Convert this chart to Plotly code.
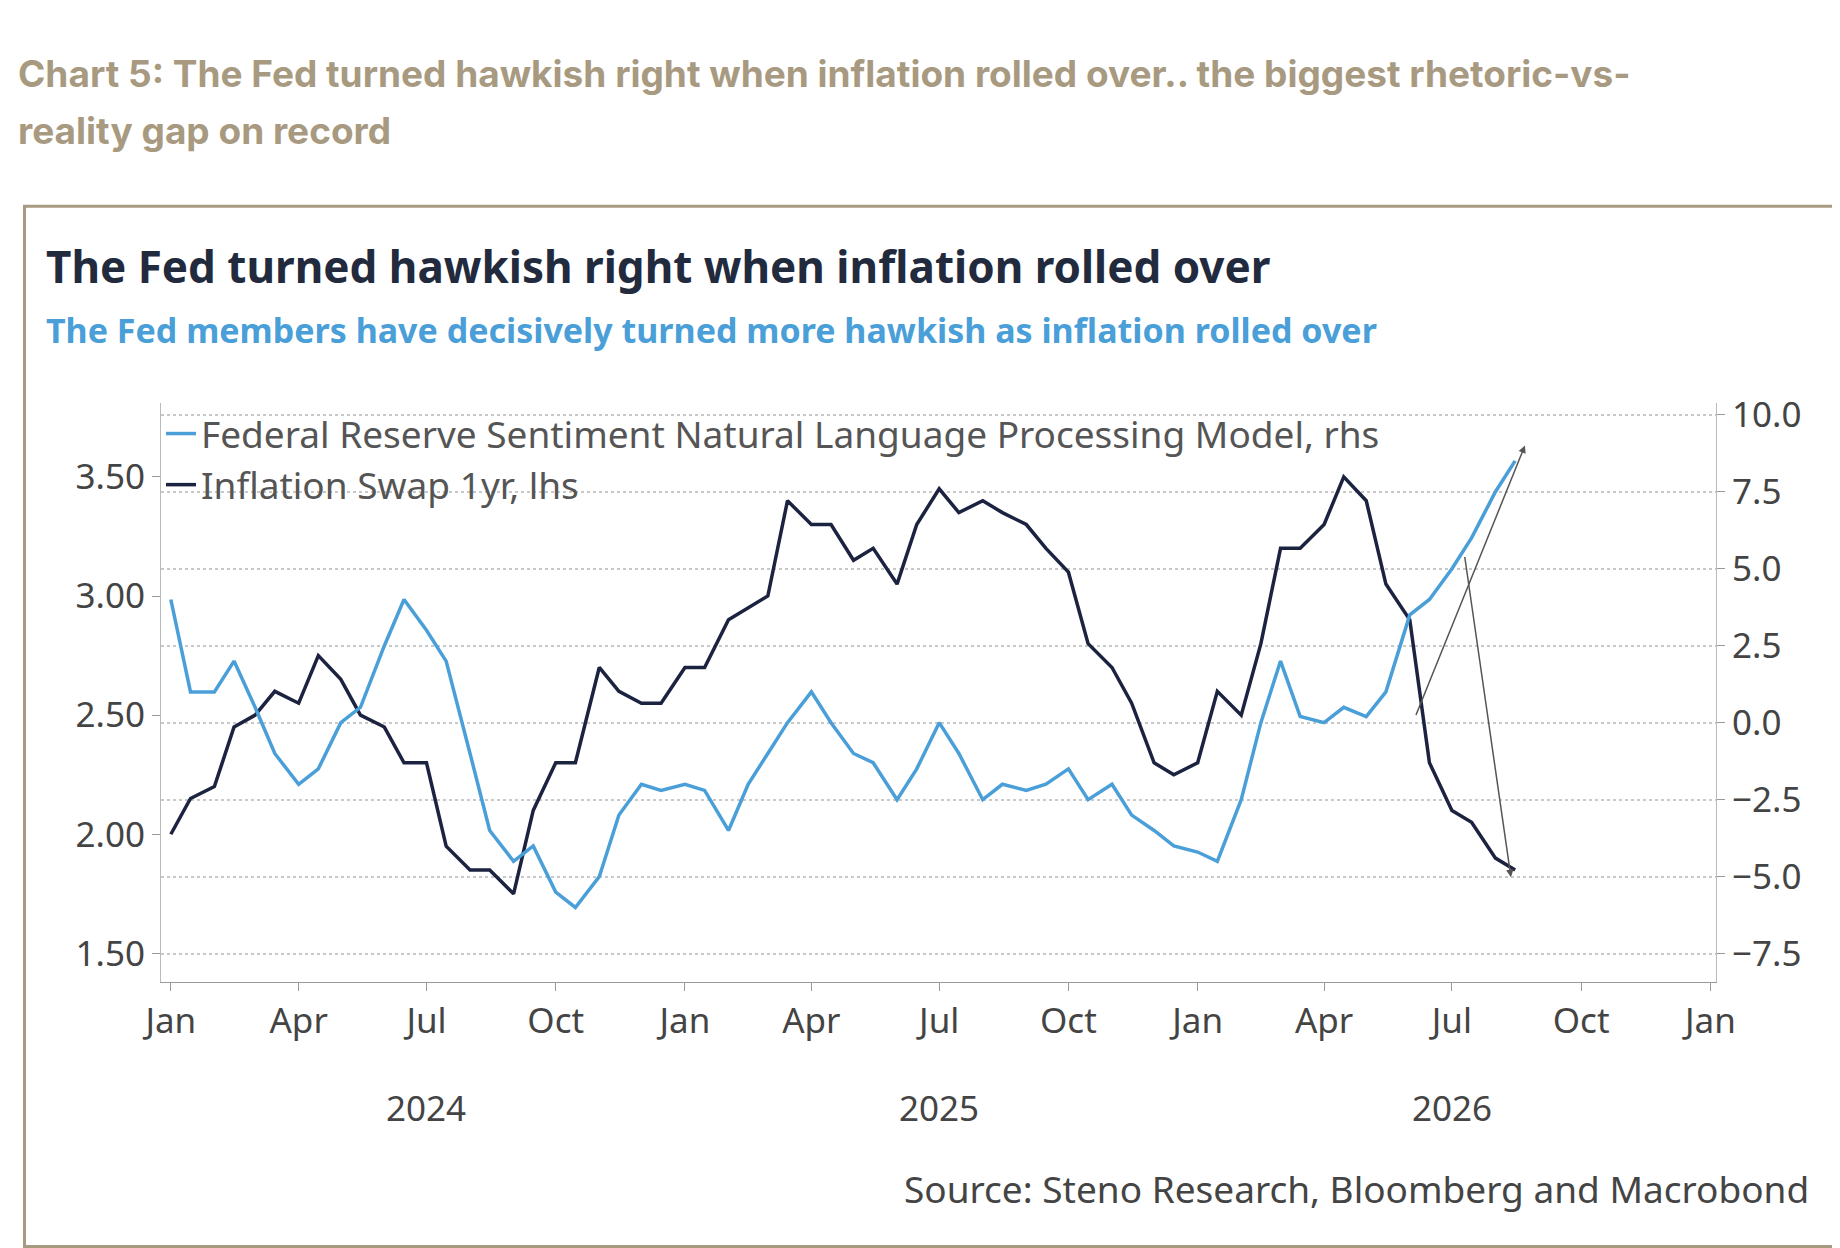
import plotly.graph_objects as go

W, H = 1840, 1248
L, R, T, B = 153, 132, 395, 274
PW, PH = W - L - R, H - T - B
S = 1840 / 1560


def px(x):
    return (x * S - L) / PW


def py(y):
    return (H - B - y * S) / PH


dates = []
for yr in (2024, 2025, 2026):
    for m in range(1, 13):
        dates += [f"{yr}-{m:02d}-01", f"{yr}-{m:02d}-15"]
dates = dates[:-8] + ["2026-08-10"]

swap = [2.0, 2.15, 2.2, 2.45, 2.5, 2.6, 2.55, 2.75, 2.65, 2.5, 2.45, 2.3,
        2.3, 1.95, 1.85, 1.85, 1.75, 2.1, 2.3, 2.3, 2.7, 2.6, 2.55, 2.55,
        2.7, 2.7, 2.9, 2.95, 3.0, 3.4, 3.3, 3.3, 3.15, 3.2, 3.05, 3.3,
        3.45, 3.35, 3.4, 3.35, 3.3, 3.2, 3.1, 2.8, 2.7, 2.55, 2.3, 2.25,
        2.3, 2.6, 2.5, 2.8, 3.2, 3.2, 3.3, 3.5, 3.4, 3.05, 2.9, 2.3,
        2.1, 2.05, 1.9]
fed = [4.0, 1.0, 1.0, 2.0, 0.5, -1.0, -2.0, -1.5, 0.0, 0.5, 2.5, 4.0,
       3.0, 2.0, -1.0, -3.5, -4.5, -4.0, -5.5, -6.0, -5.0, -3.0, -2.0, -2.2,
       -2.0, -2.2, -3.5, -2.0, -1.0, 0.0, 1.0, 0.0, -1.0, -1.3, -2.5, -1.5,
       0.0, -1.0, -2.5, -2.0, -2.2, -2.0, -1.5, -2.5, -2.0, -3.0, -3.5, -4.0,
       -4.2, -4.5, -2.5, 0.0, 2.0, 0.2, 0.0, 0.5, 0.2, 1.0, 3.5, 4.0,
       5.0, 6.0, 7.5, 8.5]
dates = dates[:len(fed)]
swap = swap + [1.85] * (len(fed) - len(swap))

tick_dates = [f"{y}-{m:02d}-01" for y in (2024, 2025, 2026) for m in (1, 4, 7, 10)] + ["2027-01-01"]
tick_text = ["Jan", "Apr", "Jul", "Oct"] * 3 + ["Jan"]
years = ["2024", "2025", "2026"]

blue, navy, tan = "#4a9fd8", "#1c2340", "#a89a80"
font = "Noto Sans"

fig = go.Figure()
fig.add_trace(go.Scatter(x=dates, y=fed, yaxis="y2", mode="lines", line=dict(color=blue, width=3.5),
                         name="Federal Reserve Sentiment Natural Language Processing Model, rhs"))
fig.add_trace(go.Scatter(x=dates, y=swap, mode="lines", line=dict(color=navy, width=3.5),
                         name="Inflation Swap 1yr, lhs"))

fig.update_layout(
    width=W, height=H, margin=dict(l=L, r=R, t=T, b=B, autoexpand=False),
    paper_bgcolor="white", plot_bgcolor="white",
    font=dict(family=font, size=34, color="#444"),
    showlegend=True,
    legend=dict(x=0, y=1.0, xanchor="left", yanchor="top", bgcolor="rgba(0,0,0,0)",
                font=dict(size=37, color="#555"), tracegroupgap=0, itemwidth=30),
    xaxis=dict(type="date", range=["2023-12-25", "2027-01-05"], tickvals=tick_dates, ticktext=tick_text,
               showgrid=False, showline=True, linecolor="#999", ticks="outside", ticklen=8,
               tickcolor="#999", tickfont=dict(size=35, color="#444"), automargin=False),
    yaxis=dict(range=[1.38, 3.81], tickvals=[1.5, 2.0, 2.5, 3.0, 3.5],
               ticktext=["1.50", "2.00", "2.50", "3.00", "3.50"], showgrid=False,
               showline=True, linecolor="#bbb", ticks="outside", tickcolor="#999", ticklen=8,
               tickfont=dict(size=35, color="#444"), zeroline=False, automargin=False),
    yaxis2=dict(range=[-8.42, 10.38], overlaying="y", side="right", dtick=2.5,
                tickformat=".1f", showgrid=True, gridcolor="#c8c8c8", griddash="dot", gridwidth=2,
                showline=True, linecolor="#bbb", ticks="outside", tickcolor="#999", ticklen=8,
                tickfont=dict(size=35, color="#444"), zeroline=False, automargin=False),
)

anns = [
    dict(x=8 / 1840, y=(H - 65) / H, text="<b>Chart 5: The Fed turned hawkish right when inflation rolled over.. the biggest rhetoric-vs-</b>",
         font=dict(size=37, color=tan, family="Inter")),
    dict(x=8 / 1840, y=(H - 122) / H, text="<b>reality gap on record</b>", font=dict(size=37, color=tan, family="Inter")),
    dict(x=36 / 1840, y=(H - 258) / H, text="<b>The Fed turned hawkish right when inflation rolled over</b>",
         font=dict(size=44, color="#222a3e")),
    dict(x=36 / 1840, y=(H - 322) / H, text="<b>The Fed members have decisively turned more hawkish as inflation rolled over</b>",
         font=dict(size=34, color=blue)),
    dict(x=1803 / 1840, y=(H - 1180) / H, text="Source: Steno Research, Bloomberg and Macrobond",
         font=dict(size=37, color="#444"), xanchor="right"),
]
for a in anns:
    a.setdefault("xanchor", "left")
    fig.add_annotation(xref="paper", yref="paper", yanchor="middle", showarrow=False,
                       x=(a["x"] * W - L) / PW, y=(a["y"] * H - B) / PH, text=a["text"],
                       font=a["font"], xanchor=a["xanchor"])

for i, yr in enumerate(years):
    fig.add_annotation(xref="x", yref="paper", x=f"{yr}-07-01", y=py(932), text=yr, showarrow=False,
                       font=dict(size=35, color="#444"), yanchor="middle")

# trend arrows
fig.add_annotation(x="2026-08-22", y=9.0, ax="2026-06-05", ay=0.2, xref="x", yref="y2",
                   axref="x", ayref="y2", showarrow=True, arrowhead=2, arrowwidth=1.5,
                   arrowcolor="#555", text="")
fig.add_annotation(x="2026-08-12", y=1.82, ax="2026-07-10", ay=3.17, xref="x", yref="y",
                   axref="x", ayref="y", showarrow=True, arrowhead=2, arrowwidth=1.5,
                   arrowcolor="#555", text="")

fig.add_shape(type="rect", xref="paper", yref="paper", x0=px(14), x1=px(1555),
              y0=py(1050), y1=py(168), line=dict(color=tan, width=3), layer="below")

fig.write_html("out.html")
